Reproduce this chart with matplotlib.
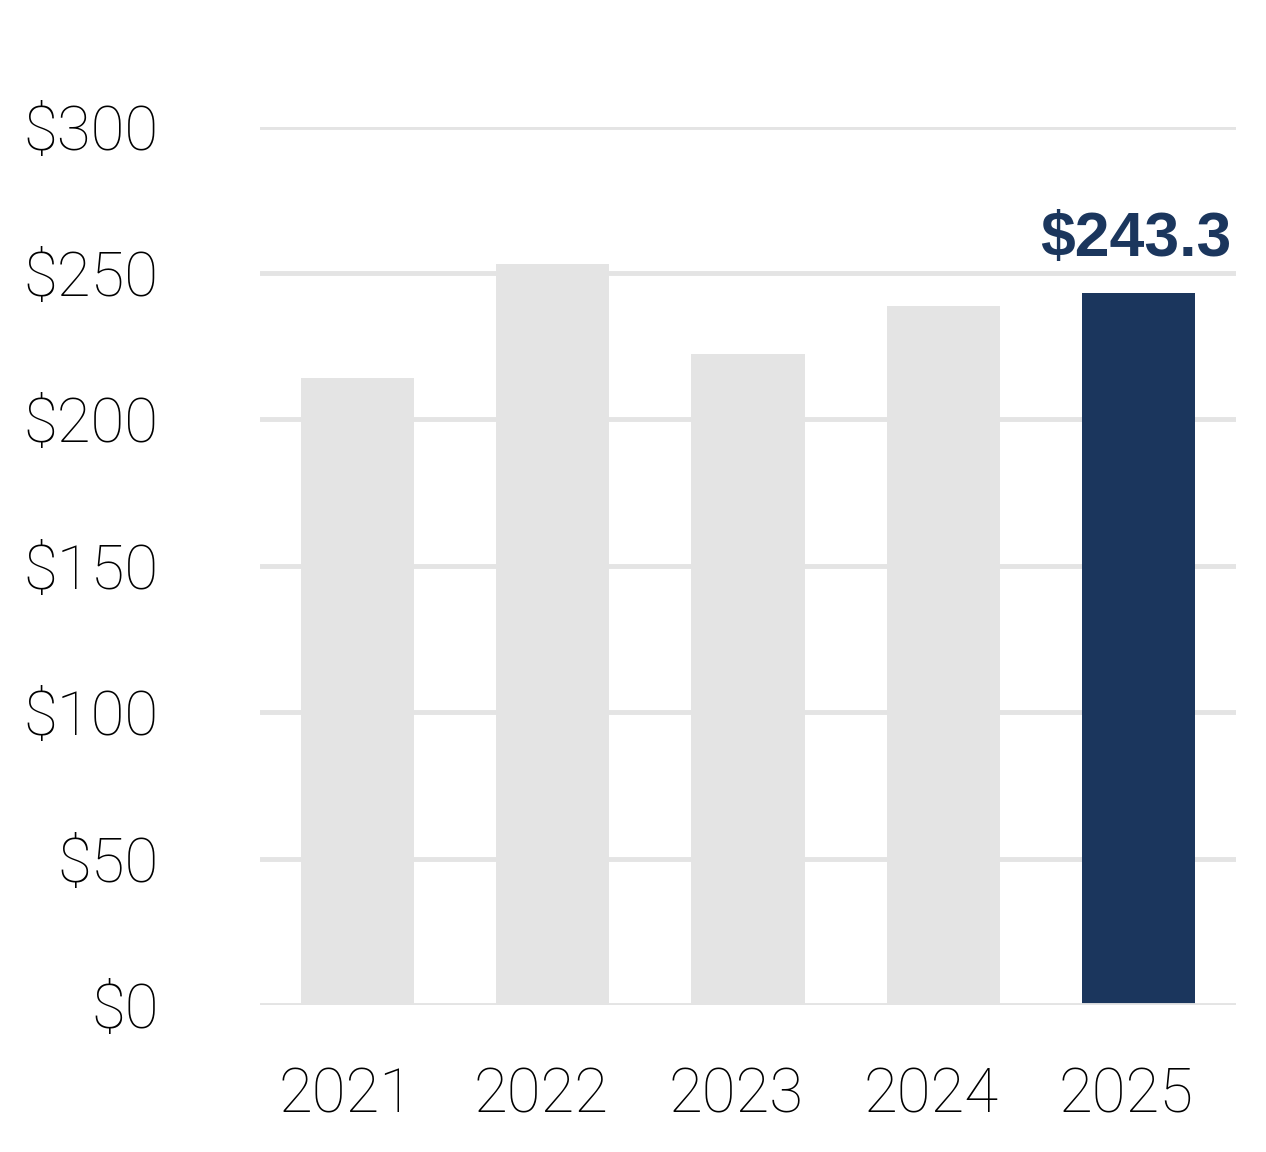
#import libraries
import matplotlib
matplotlib.use('Agg')
import matplotlib.pyplot as plt
from matplotlib.transforms import ScaledTranslation

#define data
years = ['2021', '2022', '2023', '2024', '2025']
revenue = [214.1, 253.1, 222.3, 238.7, 243.3]
y_ticks = [0, 50, 100, 150, 200, 250, 300]
y_tick_labels = ['$0', '$50', '$100', '$150', '$200', '$250', '$300']
highlight_label = '$243.3'

GRAY = '#E4E4E4'
NAVY = '#1B365D'

#draw figure
fig = plt.figure(figsize=(12.66, 11.52), dpi=100)
ax = fig.add_axes([0.2054, 0.1276, 0.7709, 0.7625])

x = list(range(len(years)))
colors = [GRAY] * (len(years) - 1) + [NAVY]
ax.bar(x, revenue, width=0.58, color=colors, zorder=2)

ax.set_xlim(-0.5, len(years) - 0.5)
ax.set_ylim(0, 300)

#gridlines (baseline drawn on top of the bars)
for t in y_ticks:
    ax.axhline(t, color=GRAY, lw=3.5, zorder=3 if t == 0 else 1)

ax.set_yticks(y_ticks)
ax.set_yticklabels(y_tick_labels)
ax.set_xticks(x)
ax.set_xticklabels(years)

for s in ax.spines.values():
    s.set_visible(False)
ax.tick_params(axis='both', length=0)
ax.tick_params(axis='y', pad=73)
ax.tick_params(axis='x', pad=44)

for lab in ax.get_yticklabels() + ax.get_xticklabels():
    lab.set_fontfamily('Roboto')
    lab.set_fontweight('light')
    lab.set_fontsize(44.5)
    lab.set_color('black')

#shift year labels a bit left like the original
for lab in ax.get_xticklabels():
    lab.set_transform(lab.get_transform() + ScaledTranslation(-0.12, 0, fig.dpi_scale_trans))

#value label on last bar
ax.annotate(highlight_label, xy=(x[-1], revenue[-1]), xytext=(-2, 26.6),
            textcoords='offset points', ha='center', va='baseline',
            fontsize=45, fontweight='bold', family='Liberation Sans', color=NAVY)

fig.savefig('out.png', dpi=100, facecolor='white')
